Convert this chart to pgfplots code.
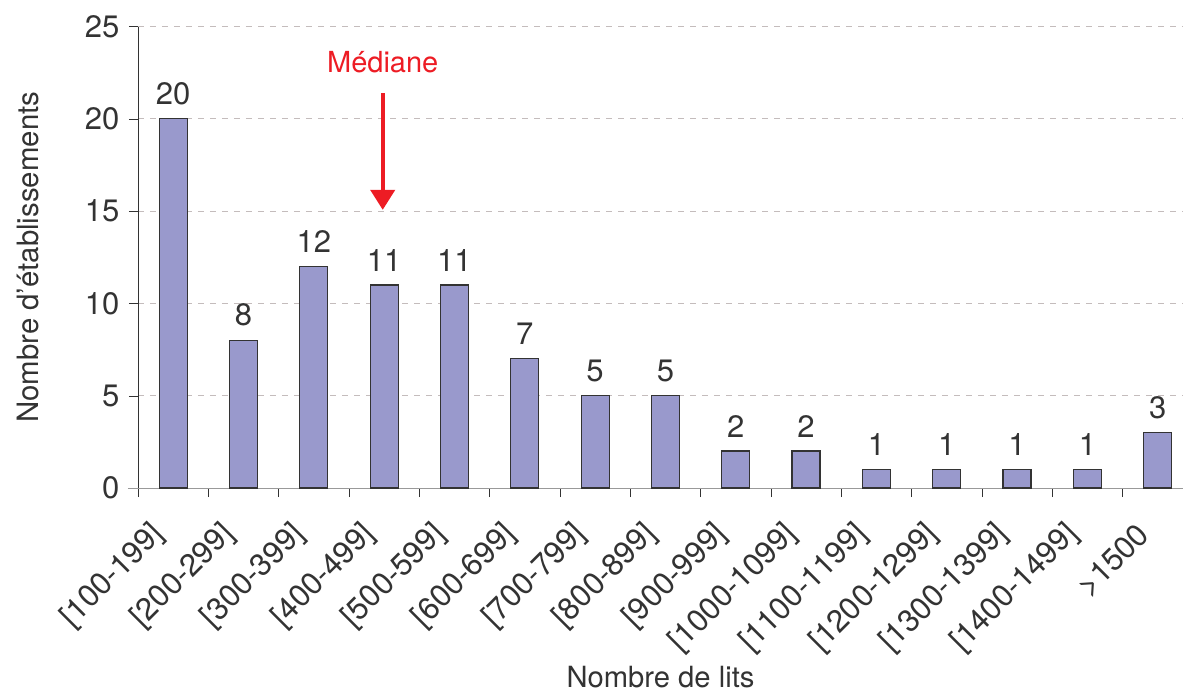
\documentclass[border=0pt]{standalone}
\usepackage{pgfplots}
\pgfplotsset{compat=1.18}
\usetikzlibrary{arrows.meta}
\usepackage{fontspec}
\setmainfont{TeX Gyre Heros}
\definecolor{barfill}{HTML}{9999CC}
\definecolor{txt}{HTML}{333333}
\definecolor{medred}{HTML}{ED1C24}
\definecolor{gridc}{HTML}{C4BCBC}
\begin{document}
\begin{tikzpicture}
\fontsize{14}{16}\selectfont
\useasboundingbox (-69pt,-101.5pt) rectangle (522.5pt,244pt);
\begin{axis}[
  at={(0pt,0pt)}, anchor=south west,
  scale only axis, width=522.5pt, height=230.7pt,
  xmin=-0.5, xmax=14.36, ymin=0, ymax=25,
  ybar, bar width=14pt,
  axis x line=bottom, axis y line=left,
  x axis line style={-, draw=gray!80},
  y axis line style={-, draw=txt},
  ytick={0,5,...,25},
  ymajorgrids, major grid style={dashed, draw=gridc},
  xtick={-0.1,0.9,1.9,2.9,3.9,4.9,5.9,6.9,7.9,8.9,9.9,10.9,11.9,12.9,13.9},
  xticklabels={{[100-199]},{[200-299]},{[300-399]},{[400-499]},{[500-599]},{[600-699]},{[700-799]},{[800-899]},{[900-999]},{[1000-1099]},{[1100-1199]},{[1200-1299]},{[1300-1399]},{[1400-1499]},{>1500}},
  major x tick style={draw=none},
  minor xtick={-0.5,0.5,...,13.5},
  minor tick length=4.5pt, major tick length=4.5pt,
  tick align=outside,
  tick style={draw=txt},
  xticklabel shift=13pt,
  xticklabel style={rotate=45, anchor=east, font=\fontsize{15.5}{18}\selectfont, text=txt},
  yticklabel style={font=\fontsize{15.5}{18}\selectfont, text=txt},
  /pgf/number format/assume math mode=true,
  xlabel={Nombre de lits},
  xlabel style={at={(axis description cs:0.5,-0.4096)}, anchor=center, font=\fontsize{14.6}{16}\selectfont, text=txt},
  ylabel={Nombre d'établissements},
  ylabel style={at={(axis description cs:-0.1053,0.5)}, anchor=center, font=\fontsize{14.7}{16}\selectfont, text=txt},
  nodes near coords,
  every node near coord/.append style={font=\fontsize{15.5}{18}\selectfont, text=txt, yshift=2pt},
  clip=false,
]
\addplot[fill=barfill, draw=txt, line width=0.6pt] coordinates {
(0,20) (1,8) (2,12) (3,11) (4,11) (5,7) (6,5) (7,5) (8,2) (9,2) (10,1) (11,1) (12,1) (13,1) (14,3)};
\draw[gray!80] ([xshift=-5pt]axis cs:-0.5,0) -- (axis cs:-0.5,0);
\draw[medred, line width=2pt, -{Triangle[width=12pt,length=10pt]}] (axis cs:2.98,21.4) -- (axis cs:2.98,15.07);
\node[text=medred, font=\fontsize{14.5}{16}\selectfont] at (axis cs:2.98,23.1) {Médiane};
\end{axis}
\end{tikzpicture}
\end{document}
